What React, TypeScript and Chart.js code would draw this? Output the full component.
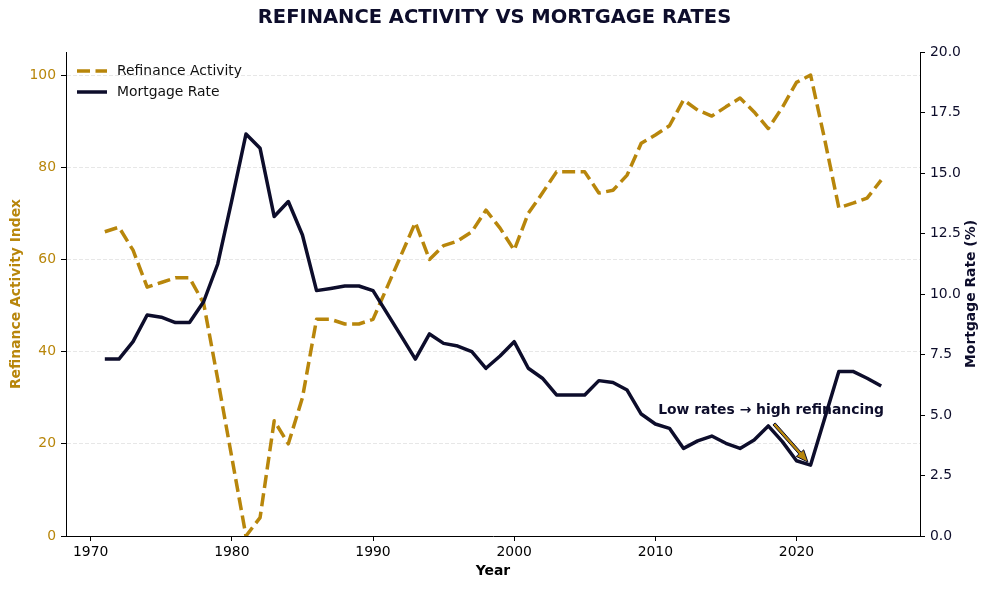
import { useEffect, useRef } from "react"
import { Chart, registerables, type Plugin } from "chart.js"

Chart.register(...registerables)

const GOLD = "#B8860B"
const NAVY = "#0D0D2B"

// yearly series, 1971-2026
const years = [
  1971, 1972, 1973, 1974, 1975, 1976, 1977, 1978, 1979, 1980,
  1981, 1982, 1983, 1984, 1985, 1986, 1987, 1988, 1989, 1990,
  1991, 1992, 1993, 1994, 1995, 1996, 1997, 1998, 1999, 2000,
  2001, 2002, 2003, 2004, 2005, 2006, 2007, 2008, 2009, 2010,
  2011, 2012, 2013, 2014, 2015, 2016, 2017, 2018, 2019, 2020,
  2021, 2022, 2023, 2024, 2025, 2026,
]

const refinanceIndex = [
  66, 67, 62, 54, 55, 56, 56, 50.5, 34, 17,
  0, 4, 25, 20, 30, 47, 47, 46, 46, 47,
  54, 61, 68, 60, 63, 64, 66, 70.7, 66.8, 62,
  70, 74.4, 79, 79, 79, 74.4, 75, 78.3, 85.2, 87,
  89, 94.6, 92.4, 91.1, 93.1, 95, 92, 88.4, 93, 98.4,
  100, 86, 71.2, 72.2, 73.3, 77.2,
]

const mortgageRate = [
  7.31, 7.31, 8.03, 9.13, 9.04, 8.82, 8.82, 9.68, 11.24, 13.88,
  16.61, 16.02, 13.2, 13.82, 12.44, 10.14, 10.23, 10.33, 10.33, 10.14,
  9.2, 8.26, 7.31, 8.35, 7.96, 7.85, 7.62, 6.93, 7.44, 8.03,
  6.93, 6.52, 5.83, 5.83, 5.83, 6.42, 6.34, 6.03, 5.04, 4.63,
  4.45, 3.62, 3.93, 4.13, 3.83, 3.62, 3.97, 4.55, 3.9, 3.11,
  2.93, 4.87, 6.8, 6.8, 6.52, 6.2,
]

const yearTicks = [1970, 1980, 1990, 2000, 2010, 2020]
const indexTicks = [0, 20, 40, 60, 80, 100]
const rateTicks = [0, 2.5, 5, 7.5, 10, 12.5, 15, 17.5, 20]

const noteText = "Low rates \u2192 high refinancing"
const noteYear = 2021
const notePos = [2018.2, 5.17] // text centre, in x / right-axis units

const FONT = "'DejaVu Sans', sans-serif"

const overlay: Plugin<"line"> = {
  id: "overlay",
  beforeDatasetsDraw(chart) {
    const { ctx, scales } = chart
    const tx = scales.x.getPixelForValue(notePos[0])
    const ty = scales.y1.getPixelForValue(notePos[1])
    ctx.save()
    ctx.font = `bold 13.9px ${FONT}`
    ctx.fillStyle = NAVY
    ctx.textAlign = "center"
    ctx.textBaseline = "middle"
    ctx.fillText(noteText, tx, ty)

    // arrow to the low point
    const pt = chart.getDatasetMeta(1).data[years.indexOf(noteYear)]
    const sx = tx + 3, sy = ty + 13
    const dx0 = pt.x - sx, dy0 = pt.y - sy
    const full = Math.hypot(dx0, dy0)
    const ux = dx0 / full, uy = dy0 / full
    const ex = pt.x - ux * 4, ey = pt.y - uy * 4
    const nx = -uy, ny = ux
    const hl = 12, hw = 5, sw = 1.5
    const bx = ex - ux * hl, by = ey - uy * hl
    ctx.beginPath()
    ctx.moveTo(sx + nx * sw, sy + ny * sw)
    ctx.lineTo(bx + nx * sw, by + ny * sw)
    ctx.lineTo(bx + nx * hw, by + ny * hw)
    ctx.lineTo(ex, ey)
    ctx.lineTo(bx - nx * hw, by - ny * hw)
    ctx.lineTo(bx - nx * sw, by - ny * sw)
    ctx.lineTo(sx - nx * sw, sy - ny * sw)
    ctx.closePath()
    ctx.fillStyle = GOLD
    ctx.fill()
    ctx.lineWidth = 1
    ctx.strokeStyle = NAVY
    ctx.stroke()
    ctx.restore()
  },
  afterDraw(chart) {
    const { ctx, chartArea } = chart
    ctx.save()
    // legend, top left inside the plot
    const rows = [
      { label: "Refinance Activity", color: GOLD, dash: [13, 5.5] },
      { label: "Mortgage Rate", color: NAVY, dash: [] as number[] },
    ]
    ctx.font = `13.9px ${FONT}`
    ctx.textBaseline = "middle"
    rows.forEach((r, i) => {
      const y = chartArea.top + 19 + i * 21
      const x = chartArea.left + 11
      ctx.beginPath()
      ctx.setLineDash(r.dash)
      ctx.lineWidth = 3.5
      ctx.strokeStyle = r.color
      ctx.moveTo(x, y)
      ctx.lineTo(x + 30, y)
      ctx.stroke()
      ctx.setLineDash([])
      ctx.fillStyle = "#111"
      ctx.fillText(r.label, x + 40, y)
    })

    // right axis title, reading bottom to top
    ctx.translate(chart.width - 18, (chartArea.top + chartArea.bottom) / 2)
    ctx.rotate(-Math.PI / 2)
    ctx.textAlign = "center"
    ctx.font = `bold 13.9px ${FONT}`
    ctx.fillStyle = NAVY
    ctx.fillText("Mortgage Rate (%)", 0, 0)
    ctx.restore()
  },
}

export default function App() {
  const canvasRef = useRef<HTMLCanvasElement>(null)

  useEffect(() => {
    if (!canvasRef.current) return
    Chart.defaults.font.family = FONT

    const chart = new Chart(canvasRef.current, {
      type: "line",
      data: {
        datasets: [
          {
            label: "Refinance Activity",
            data: years.map((x, i) => ({ x, y: refinanceIndex[i] })),
            yAxisID: "y",
            borderColor: GOLD,
            borderWidth: 3.5,
            borderDash: [13, 5.5],
            borderJoinStyle: "round",
            pointRadius: 0,
            tension: 0,
            order: 2,
          },
          {
            label: "Mortgage Rate",
            data: years.map((x, i) => ({ x, y: mortgageRate[i] })),
            yAxisID: "y1",
            borderColor: NAVY,
            borderWidth: 3.5,
            borderJoinStyle: "round",
            pointRadius: 0,
            tension: 0,
            order: 1,
          },
        ],
      },
      options: {
        responsive: false,
        animation: false,
        layout: { padding: 0 },
        plugins: {
          legend: { display: false },
          tooltip: { enabled: false },
          title: {
            display: true,
            text: "REFINANCE ACTIVITY VS MORTGAGE RATES",
            color: NAVY,
            font: { size: 19.5, weight: "bold" },
            padding: { top: 6.3, bottom: 22.3 },
          },
        },
        scales: {
          x: {
            type: "linear",
            min: 1968.25,
            max: 2028.75,
            afterBuildTicks: (a) => {
              a.ticks = yearTicks.map((value) => ({ value }))
            },
            afterFit: (a) => {
              a.height = 53
            },
            grid: { drawOnChartArea: false, tickLength: 5, tickColor: "#000" },
            border: { color: "#000", width: 1 },
            ticks: {
              color: "#000",
              font: { size: 13.9 },
              padding: 3,
              maxRotation: 0,
              autoSkip: false,
              callback: (v) => String(v),
            },
            title: {
              display: true,
              text: "Year",
              color: "#000",
              font: { size: 13.9, weight: "bold" },
              padding: { top: 0, bottom: 9 },
            },
          },
          y: {
            position: "left",
            min: 0,
            max: 105,
            afterBuildTicks: (a) => {
              a.ticks = indexTicks.map((value) => ({ value }))
            },
            afterFit: (a) => {
              a.width = 66
            },
            grid: {
              color: (c) => (c.tick && c.tick.value === 0 ? "rgba(0,0,0,0)" : "rgba(0,0,0,0.12)"),
              lineWidth: 0.8,
              tickLength: 5,
              tickColor: "#000",
              tickWidth: 1,
              tickBorderDash: [],
            },
            border: { color: "#000", width: 1, dash: [4, 2] },
            ticks: {
              color: GOLD,
              font: { size: 13.9 },
              padding: 5,
              callback: (v) => String(v),
            },
            title: {
              display: true,
              text: "Refinance Activity Index",
              color: GOLD,
              font: { size: 13.9, weight: "bold" },
              padding: { top: 8, bottom: 0 },
            },
          },
          y1: {
            position: "right",
            min: 0,
            max: 20,
            afterBuildTicks: (a) => {
              a.ticks = rateTicks.map((value) => ({ value }))
            },
            afterFit: (a) => {
              a.width = 69
            },
            grid: { drawOnChartArea: false, tickLength: 5, tickColor: "#000" },
            border: { color: "#000", width: 1 },
            ticks: {
              color: NAVY,
              font: { size: 13.9 },
              padding: 5,
              callback: (v) => Number(v).toFixed(1),
            },
          },
        },
      },
      plugins: [overlay],
    })

    return () => chart.destroy()
  }, [])

  return (
    <div style={{ position: "fixed", left: 0, top: 0, width: 989, height: 589, background: "#fff" }}>
      <canvas ref={canvasRef} width={989} height={589} />
    </div>
  )
}
